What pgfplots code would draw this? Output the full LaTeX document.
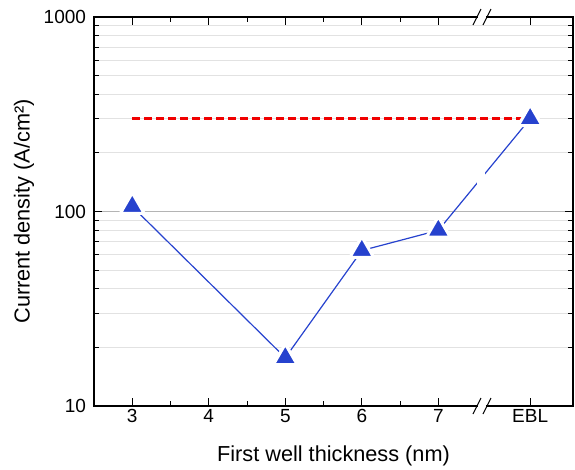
\documentclass[border=0pt]{standalone}
\usepackage{fontspec}
\setmainfont{Liberation Sans}
\usepackage{pgfplots}
\pgfplotsset{compat=1.18}
\definecolor{ptblue}{RGB}{38,66,206}
\definecolor{refred}{RGB}{240,0,0}
\definecolor{majgrid}{RGB}{180,180,180}
\definecolor{mingrid}{RGB}{226,226,226}

\begin{document}
\begin{tikzpicture}
\begin{axis}[
    scale only axis,
    width=479pt, height=389pt,
    xmin=2.5, xmax=8.76,
    ymode=log, ymin=10, ymax=1000,
    xtick={3,4,5,6,7,8.2},
    xticklabels={3,4,5,6,7,EBL},
    minor xtick={3.5,4.5,5.5,6.5},
    ytick={10,100,1000},
    yticklabels={10,100,1000},
    tick align=inside,
    major tick length=8pt,
    minor tick length=5pt,
    every tick/.style={black, line width=0.9pt},
    axis line style={black, line width=1.1pt},
    ymajorgrids, yminorgrids,
    major grid style={majgrid, line width=0.9pt},
    minor grid style={mingrid, line width=0.9pt},
    tick label style={font=\fontsize{19}{22}\selectfont},
    label style={font=\fontsize{21.7}{26}\selectfont},
    /pgf/number format/assume math mode=true,
    yticklabel style={xshift=-4.5pt},
    xlabel={First well thickness (nm)},
    ylabel={Current density (A/cm²)},
    xlabel style={at={(axis description cs:0.5,0)}, anchor=north, yshift=-36pt},
    ylabel style={at={([xshift=-70pt]axis description cs:0,0.5)}, anchor=center},
    clip=false,
]
% reference level
\addplot[refred, line width=2.5pt, dash pattern=on 8pt off 4pt] coordinates {(3,300) (8.2,300)};
% measured
\addplot[ptblue, line width=1.2pt, mark=triangle*, mark size=13.8pt,
    mark options={fill=ptblue, draw=white, line width=3pt, line join=round}]
    coordinates {(3,106) (5,17.7) (6,63) (7,80) (8.2,300)};
% gap of the line at the axis break
\fill[white] (axis cs:7.505,120) rectangle (axis cs:7.61,170);
\coordinate (bb) at (axis cs:7.57,10);
\coordinate (bt) at (axis cs:7.57,1000);
\coordinate (sw) at (rel axis cs:0,0);
\coordinate (ne) at (rel axis cs:1,1);
\end{axis}
% axis break marks
\foreach \p in {bb,bt}{
  \draw[white, line width=3pt] ([xshift=-4pt]\p) -- ([xshift=4pt]\p);
  \draw[black, line width=1pt] ([xshift=-9pt,yshift=-8pt]\p) -- ([xshift=-1pt,yshift=8pt]\p);
  \draw[black, line width=1pt] ([xshift=1pt,yshift=-8pt]\p) -- ([xshift=9pt,yshift=8pt]\p);
}
\path (sw) ++(-94pt,-64pt);
\path (ne) ++(2pt,17pt);
\end{tikzpicture}
\end{document}
